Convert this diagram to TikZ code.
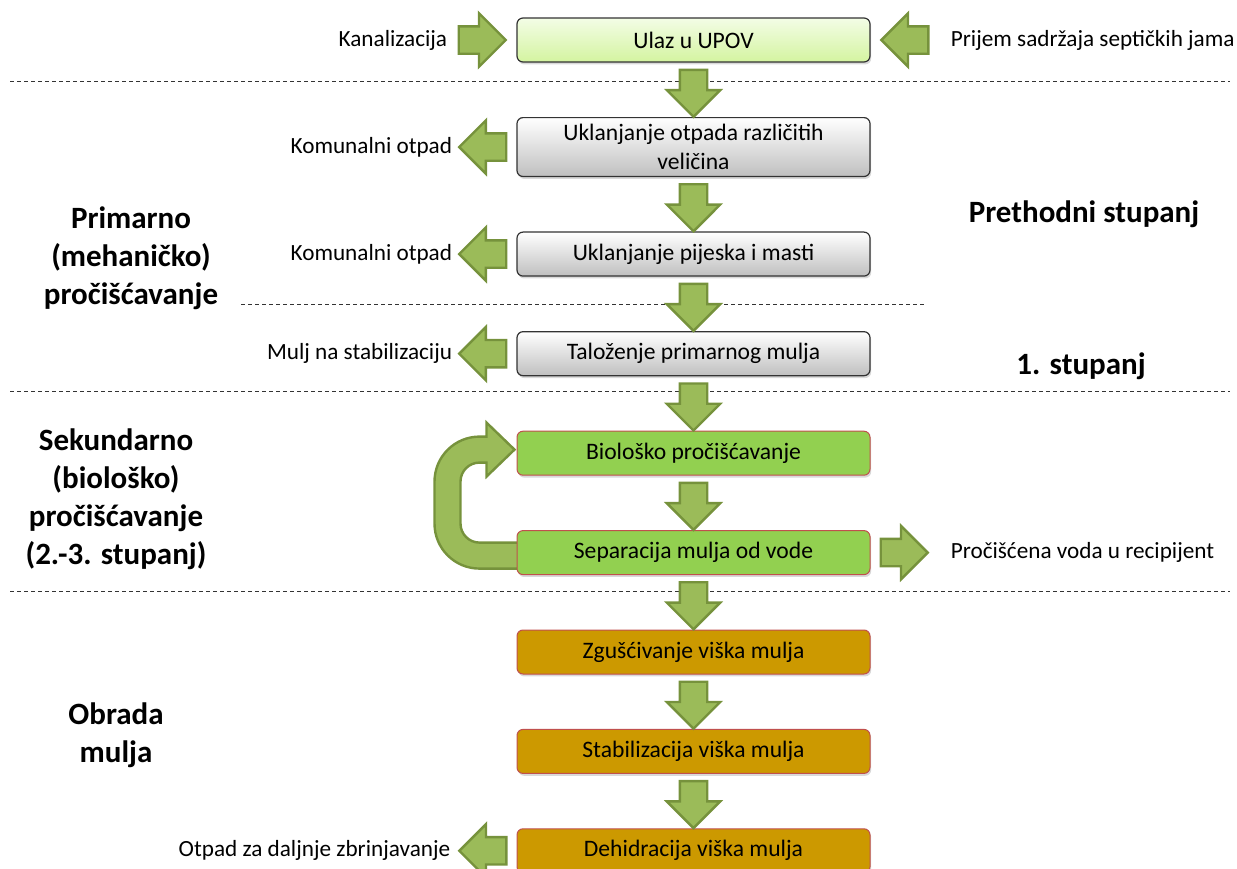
\documentclass[tikz,border=0pt]{standalone}
\usepackage{fontspec}
\setmainfont{Carlito}
\usepackage{tikz}
\usetikzlibrary{shapes.arrows, positioning, calc, shadows, backgrounds}
\definecolor{arrowgreen}{RGB}{155,187,89}
\definecolor{arrowdark}{RGB}{118,146,60}
\definecolor{inletlight}{RGB}{243,253,230}
\definecolor{inletdark}{RGB}{212,244,160}
\definecolor{biogreen}{RGB}{146,208,80}
\definecolor{sludgegold}{RGB}{204,153,0}
\definecolor{boxred}{RGB}{192,80,77}

\tikzset{
    stage/.style={rounded corners=3pt, minimum width=176.5pt, minimum height=22pt,
                  align=center, font=\fontsize{11.8}{14.5}\selectfont,
                  drop shadow={shadow xshift=0.6pt, shadow yshift=-1.2pt, opacity=0.3}},
    inletbox/.style={stage, draw=black!80, line width=0.6pt, top color=inletlight, bottom color=inletdark},
    prebox/.style={stage, draw=black!80, line width=0.6pt, top color=white, bottom color=black!25},
    biobox/.style={stage, draw=boxred, line width=0.5pt, fill=biogreen},
    sludgebox/.style={stage, draw=boxred, line width=0.5pt, fill=sludgegold},
    blockarrow/.style={single arrow, draw=arrowdark, fill=arrowgreen, line width=1.2pt,
                       inner xsep=0pt, inner ysep=6.25pt, minimum height=23.5pt,
                       single arrow head extend=6.5pt},
    downarrow/.style={blockarrow, rotate=-90, anchor=tail},
    outarrow/.style={blockarrow, rotate=180, anchor=tail},
    sidelabel/.style={font=\fontsize{11.6}{14}\selectfont, inner sep=0pt},
    phase/.style={font=\bfseries\fontsize{15.5}{19}\selectfont, align=center},
    divider/.style={black!80, line width=0.5pt, dash pattern=on 2pt off 1.5pt}
}

\begin{document}
\begin{tikzpicture}[x=0.5pt, y=-0.5pt, node distance=27.2pt]
    \useasboundingbox (0,0) rectangle (1237,868);

    % dashed borders between the stages
    \draw[divider] (10,81.5) -- (1230,81.5);
    \draw[divider] (241,304) -- (925,304);
    \draw[divider] (10,391) -- (1230,391);
    \draw[divider] (10,591.5) -- (1230,591.5);

    % main column
    \node[inletbox] (ulaz) at (693.5,40) {Ulaz u UPOV};
    \node[prebox, minimum height=28pt, below=of ulaz] (otpad) {Uklanjanje otpada različitih\\veličina};
    \node[prebox, below=of otpad] (pijesak) {Uklanjanje pijeska i masti};
    \node[prebox, below=of pijesak] (talozenje) {Taloženje primarnog mulja};
    \node[biobox, below=of talozenje] (bio) {Biološko pročišćavanje};
    \node[biobox, below=of bio] (separacija) {Separacija mulja od vode};
    \node[sludgebox, below=of separacija] (zgusc) {Zgušćivanje viška mulja};
    \node[sludgebox, below=of zgusc] (stab) {Stabilizacija viška mulja};
    \node[sludgebox, below=of stab] (dehid) {Dehidracija viška mulja};

    \foreach \a/\b in {ulaz/otpad, otpad/pijesak, pijesak/talozenje, talozenje/bio,
                       bio/separacija, separacija/zgusc, zgusc/stab, stab/dehid}
        \node[downarrow] (arr-\a) at ($(\a.south)+(0,6)$) {};

    % inputs and outputs
    \node[blockarrow, anchor=tip] (arr-kanal) at ($(ulaz.west)+(-9,0)$) {};
    \node[sidelabel, left=5pt of arr-kanal.tail] (kanal) {Kanalizacija};
    \node[blockarrow, rotate=180, anchor=tip] (arr-septik) at ($(ulaz.east)+(9,0)$) {};
    \node[sidelabel, right=10.5pt of arr-septik.tail] (septik) {Prijem sadržaja septičkih jama};

    \node[outarrow] (arr-kom1) at ($(otpad.west)+(-9,0)$) {};
    \node[sidelabel, left=2.5pt of arr-kom1.tip] (kom1) {Komunalni otpad};
    \node[outarrow] (arr-kom2) at ($(pijesak.west)+(-9,0)$) {};
    \node[sidelabel, left=2.5pt of arr-kom2.tip] (kom2) {Komunalni otpad};
    \node[outarrow] (arr-mulj) at ($(talozenje.west)+(-9,0)$) {};
    \node[sidelabel, left=2.5pt of arr-mulj.tip] (mulj) {Mulj na stabilizaciju};
    \node[blockarrow, anchor=tail] (arr-voda) at ($(separacija.east)+(9,0)$) {};
    \node[sidelabel, right=10.5pt of arr-voda.tip] (voda) {Pročišćena voda u recipijent};
    \node[outarrow] (arr-zbrin) at ($(dehid.west)+(-9,0)$) {};
    \node[sidelabel, left=3.5pt of arr-zbrin.tip] (zbrin) {Otpad za daljnje zbrinjavanje};

    % return of sludge
    \begin{pgfonlayer}{background}
    \draw[arrowdark, fill=arrowgreen, line width=1.2pt]
        ($(separacija.west)+(4,16)$) -- ++(-41,0)
        arc[start angle=90, end angle=180, radius=45] -- ++(0,-42)
        arc[start angle=180, end angle=270, radius=45] -- ++(7,0)
        -- ++(0,-14) -- ++(28,27) -- ++(-28,27) -- ++(0,-14) -- ++(-7,0)
        arc[start angle=270, end angle=180, radius=19] -- ++(0,42)
        arc[start angle=180, end angle=90, radius=19] -- ++(41,0) -- cycle;
    \end{pgfonlayer}

    % stage names
    \node[phase] (primarno) at (131,258) {Primarno\\(mehaničko)\\pročišćavanje};
    \node[phase] (sekundarno) at (116,499) {Sekundarno\\(biološko)\\pročišćavanje\\(2.-3. stupanj)};
    \node[phase] (obrada) at (116,735) {Obrada\\mulja};
    \node[phase] (prethodni) at (1084,214) {Prethodni stupanj};
    \node[phase] (prvi) at (1081,366) {1. stupanj};
\end{tikzpicture}
\end{document}
